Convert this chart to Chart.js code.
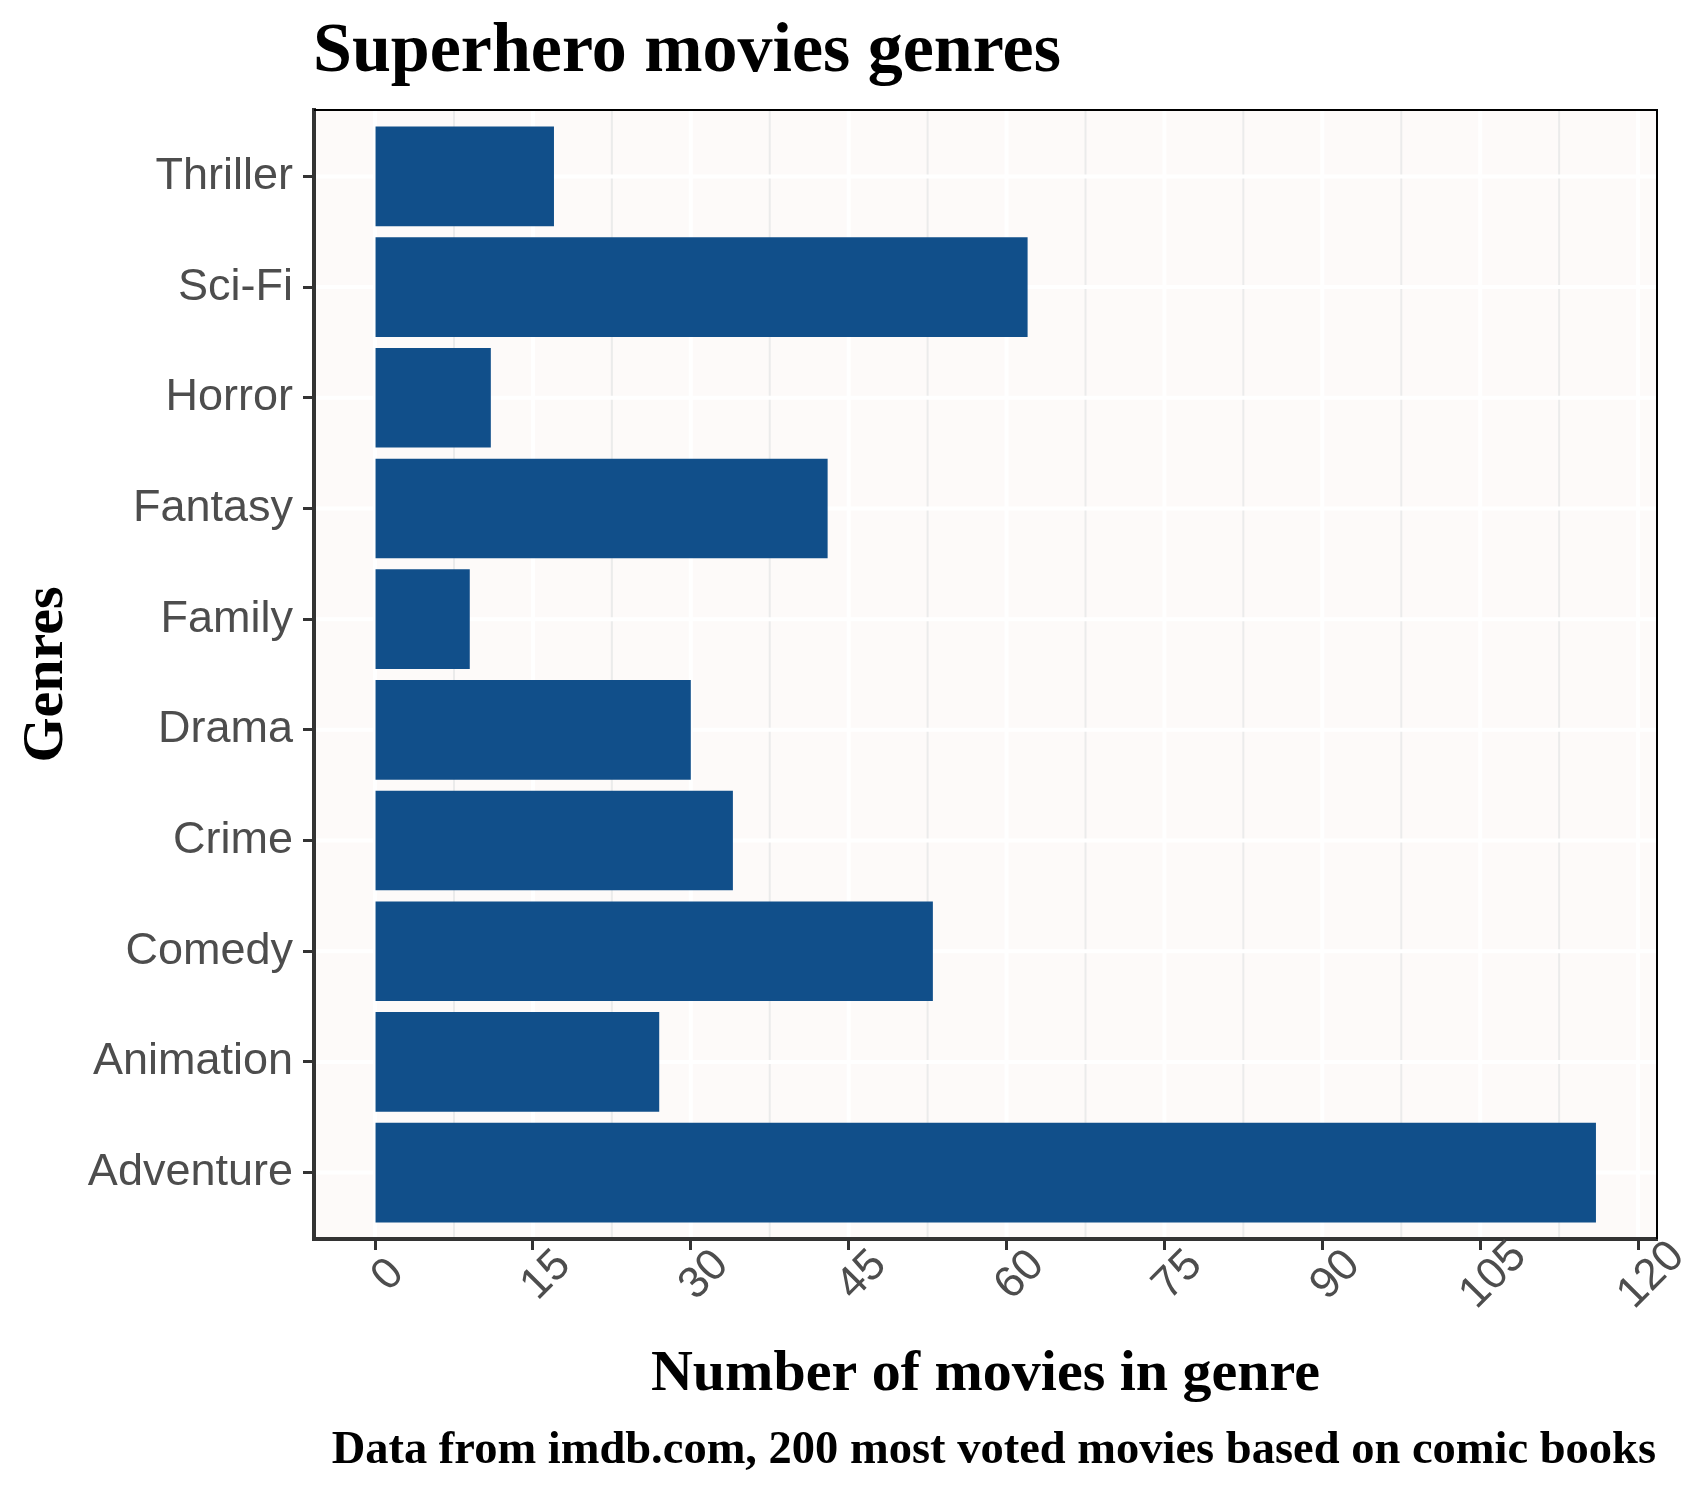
<!DOCTYPE html>
<html>
<head>
<meta charset="utf-8">
<script src="https://cdn.jsdelivr.net/npm/chart.js@4.4.0/dist/chart.umd.min.js"></script>
<style>
  body { margin: 0; background: #ffffff; }
  #wrap { width: 1681px; height: 1493px; }
</style>
</head>
<body>
<div id="wrap"><canvas id="genreChart" width="1681" height="1493"></canvas></div>
<script>
// genres from bottom to top of the plot
const genres = ['Adventure', 'Animation', 'Comedy', 'Crime', 'Drama', 'Family', 'Fantasy', 'Horror', 'Sci-Fi', 'Thriller'];
const counts = [116, 27, 53, 34, 30, 9, 43, 11, 62, 17];
const xTicks = [0, 15, 30, 45, 60, 75, 90, 105, 120];
const xMinor = [7.5, 22.5, 37.5, 52.5, 67.5, 82.5, 97.5, 112.5];

const serif = '"Liberation Serif", "Times New Roman", serif';
const sans = '"Liberation Sans", Arial, sans-serif';

// panel background, grid lines (ggplot style: minor below, major on top)
const panelPlugin = {
    id: 'panel',
    beforeDraw(chart) {
        const ctx = chart.ctx;
        const area = chart.chartArea;
        const xs = chart.scales.x;
        const ys = chart.scales.y;
        ctx.save();
        ctx.fillStyle = '#ffffff';
        ctx.fillRect(0, 0, chart.width, chart.height);
        ctx.fillStyle = '#FDFAF9';
        ctx.fillRect(area.left, area.top, area.right - area.left, area.bottom - area.top);

        ctx.strokeStyle = '#EBEBEB';
        ctx.lineWidth = 2;
        xMinor.forEach(v => {
            const px = xs.getPixelForValue(v);
            ctx.beginPath();
            ctx.moveTo(px, area.top);
            ctx.lineTo(px, area.bottom);
            ctx.stroke();
        });

        ctx.strokeStyle = '#ffffff';
        ctx.lineWidth = 4;
        xTicks.forEach(v => {
            const px = xs.getPixelForValue(v);
            ctx.beginPath();
            ctx.moveTo(px, area.top);
            ctx.lineTo(px, area.bottom);
            ctx.stroke();
        });
        genres.forEach((g, i) => {
            const py = ys.getPixelForValue(i + 1);
            ctx.beginPath();
            ctx.moveTo(area.left, py);
            ctx.lineTo(area.right, py);
            ctx.stroke();
        });
        ctx.restore();
    },
    afterDraw(chart) {
        const ctx = chart.ctx;
        const area = chart.chartArea;
        const xs = chart.scales.x;
        ctx.save();

        // thin black panel border on top and right
        ctx.strokeStyle = '#000000';
        ctx.lineWidth = 2;
        ctx.beginPath();
        ctx.moveTo(area.left, area.top);
        ctx.lineTo(area.right, area.top);
        ctx.lineTo(area.right, area.bottom);
        ctx.stroke();

        // rotated x tick labels
        ctx.fillStyle = '#4D4D4D';
        ctx.font = '44px ' + sans;
        ctx.textAlign = 'center';
        ctx.textBaseline = 'alphabetic';
        xTicks.forEach(v => {
            const px = xs.getPixelForValue(v);
            ctx.save();
            ctx.translate(px + 11, area.bottom + 34);
            ctx.rotate(-Math.PI / 4);
            ctx.fillText(String(v), 0, 15.5);
            ctx.restore();
        });

        // titles
        ctx.fillStyle = '#000000';
        ctx.textAlign = 'left';
        ctx.font = 'bold 70px ' + serif;
        ctx.fillText('Superhero movies genres', 313, 71);

        ctx.textAlign = 'center';
        ctx.font = 'bold 58px ' + serif;
        ctx.fillText('Number of movies in genre', (area.left + area.right) / 2, 1390);

        ctx.textAlign = 'right';
        ctx.font = 'bold 46.5px ' + serif;
        ctx.fillText('Data from imdb.com, 200 most voted movies based on comic books', 1656, 1463);

        ctx.save();
        ctx.translate(62, (area.top + area.bottom) / 2);
        ctx.rotate(-Math.PI / 2);
        ctx.textAlign = 'center';
        ctx.font = 'bold 58px ' + serif;
        ctx.fillText('Genres', 0, 0);
        ctx.restore();

        ctx.restore();
    }
};

const ctxEl = document.getElementById('genreChart');
new Chart(ctxEl, {
    type: 'bar',
    data: {
        datasets: [{
            data: counts.map((v, i) => ({x: v, y: i + 1})),
            backgroundColor: '#114F8A',
            borderWidth: 0,
            barPercentage: 0.9,
            categoryPercentage: 1.0
        }]
    },
    options: {
        indexAxis: 'y',
        responsive: false,
        animation: false,
        devicePixelRatio: 1,
        layout: {padding: {top: 110, right: 24, left: 0, bottom: 0}},
        plugins: {
            legend: {display: false},
            tooltip: {enabled: false}
        },
        scales: {
            x: {
                type: 'linear',
                min: -5.8,
                max: 121.8,
                afterBuildTicks: s => { s.ticks = xTicks.map(v => ({value: v})); },
                afterFit: s => { s.height = 254; },
                ticks: {display: false},
                grid: {drawOnChartArea: false, drawTicks: true, tickLength: 11, tickWidth: 3, tickColor: '#333333'},
                border: {display: true, color: '#333333', width: 4}
            },
            y: {
                type: 'linear',
                offset: false,
                min: 0.4,
                max: 10.6,
                afterBuildTicks: s => { s.ticks = genres.map((g, i) => ({value: i + 1})); },
                afterFit: s => { s.width = 314; },
                ticks: {
                    callback: v => genres[Math.round(v) - 1],
                    autoSkip: false,
                    padding: 10,
                    color: '#4D4D4D',
                    font: {family: sans, size: 45}
                },
                grid: {offset: false, drawOnChartArea: false, drawTicks: true, tickLength: 11, tickWidth: 3, tickColor: '#333333'},
                border: {display: true, color: '#333333', width: 4}
            }
        }
    },
    plugins: [panelPlugin]
});
</script>
</body>
</html>
